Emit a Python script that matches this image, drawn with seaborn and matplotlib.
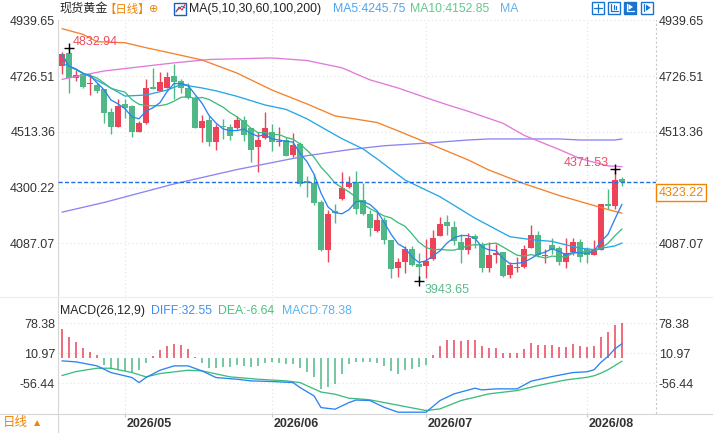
import numpy as np
import pandas as pd
import matplotlib
matplotlib.use("Agg")
import matplotlib.pyplot as plt
import matplotlib.transforms as mtransforms
from matplotlib.patches import Rectangle, Polygon
from matplotlib.ticker import FormatStrFormatter
import seaborn as sns

# ---------------- data ----------------
start_date = "2026-04-20"
n_days = 81

opens = [4764.7, 4813.0, 4717.8, 4733.1, 4695.0, 4691.2, 4676.0, 4589.5, 4533.6, 4618.8,
         4612.4, 4514.5, 4548.8, 4684.7, 4669.5, 4682.0, 4726.6, 4707.5, 4682.0, 4644.0,
         4526.0, 4557.9, 4472.7, 4536.2, 4532.4, 4526.0, 4557.9, 4527.5, 4453.6, 4487.9,
         4513.4, 4472.7, 4482.9, 4425.8, 4466.6, 4324.2, 4316.6, 4244.2, 4060.4, 4208.8,
         4254.5, 4301.4, 4323.0, 4250.7, 4197.4, 4132.7, 4177.2, 4098.4, 3993.0, 4015.8,
         4066.8, 4005.9, 3999.4, 4025.0, 4113.7, 4168.1, 4149.1, 4092.0, 4063.0, 4113.7,
         4081.3, 3993.0, 4044.0, 4053.9, 3965.2, 3993.0, 3996.8, 4069.1, 4117.5, 4037.5,
         4079.4, 4070.6, 4015.8, 4053.9, 4092.0, 4066.8, 4041.3, 4063.0, 4235.5, 4229.0,
         4333.3]
highs = [4819.1, 4832.94, 4748.3, 4735.3, 4733.1, 4701.1, 4678.0, 4605.9, 4637.9, 4639.0,
         4615.0, 4555.3, 4714.0, 4758.2, 4741.8, 4741.8, 4771.1, 4714.0, 4701.1, 4650.4,
         4578.1, 4574.3, 4542.7, 4561.7, 4542.7, 4574.3, 4574.3, 4529.0, 4510.7, 4589.5,
         4542.7, 4532.4, 4491.7, 4508.4, 4472.7, 4345.9, 4352.4, 4250.7, 4212.6, 4238.1,
         4358.4, 4345.9, 4362.0, 4318.1, 4212.6, 4210.0, 4187.1, 4100.0, 4031.0, 4075.6,
         4075.6, 4050.1, 4104.9, 4136.5, 4187.1, 4193.6, 4171.9, 4123.9, 4126.2, 4123.9,
         4092.0, 4092.0, 4085.9, 4055.0, 4015.8, 4034.9, 4079.4, 4155.5, 4133.8, 4066.8,
         4107.2, 4075.6, 4107.2, 4107.2, 4104.9, 4072.9, 4101.1, 4238.1, 4295.3, 4371.53,
         4342.1]
lows = [4733.1, 4663.0, 4707.5, 4680.0, 4654.3, 4663.0, 4548.8, 4504.6, 4530.0, 4567.8,
        4494.4, 4510.7, 4545.0, 4676.0, 4669.0, 4679.8, 4637.9, 4663.0, 4637.9, 4526.0,
        4472.7, 4457.4, 4444.9, 4485.6, 4482.9, 4523.7, 4476.5, 4396.5, 4358.4, 4485.6,
        4441.1, 4460.1, 4419.4, 4418.2, 4305.1, 4263.3, 4231.7, 4056.6, 4015.8, 4165.8,
        4252.0, 4298.0, 4200.1, 4193.6, 4114.8, 4130.0, 4083.2, 3952.6, 3956.4, 3973.9,
        4000.6, 3943.65, 3952.6, 4022.3, 4113.7, 4117.5, 4079.4, 4012.0, 4045.1, 4070.6,
        3977.7, 3975.5, 4009.7, 3958.0, 3952.6, 3977.7, 3990.7, 4069.1, 4034.9, 4012.0,
        4047.8, 4003.2, 3990.7, 4044.0, 4015.8, 4012.0, 4041.3, 4060.4, 4216.4, 4219.1,
        4305.1]
closes = [4809.2, 4720.1, 4730.4, 4685.9, 4698.8, 4669.5, 4586.9, 4533.6, 4612.4, 4605.9,
          4514.5, 4548.8, 4679.8, 4678.2, 4703.7, 4722.8, 4704.9, 4679.8, 4644.0, 4529.8,
          4555.3, 4472.7, 4532.4, 4532.4, 4495.5, 4557.9, 4500.8, 4444.9, 4482.9, 4527.5,
          4475.3, 4479.1, 4422.0, 4463.9, 4314.3, 4316.6, 4240.4, 4060.4, 4197.4, 4203.9,
          4297.5, 4318.1, 4216.4, 4197.4, 4146.8, 4177.2, 4101.1, 3986.9, 4013.5, 4066.8,
          4003.2, 3996.8, 4019.6, 4108.7, 4162.0, 4152.9, 4095.8, 4063.0, 4108.7, 4104.9,
          3990.7, 4041.3, 4047.8, 3961.4, 4003.2, 3996.8, 4064.2, 4117.5, 4044.0, 4041.3,
          4063.0, 4015.8, 4050.1, 4092.0, 4034.9, 4044.0, 4063.0, 4235.5, 4229.0, 4330.7,
          4323.22]

# long moving averages, read at sample candles
ma30_idx = [0, 3, 6, 9, 12, 15, 17, 20, 22, 25, 29, 32, 35, 38, 40, 43, 45, 49, 54, 59,
            64, 67, 70, 74, 76, 79, 80]
ma30_val = [4777, 4738, 4696, 4650, 4654, 4673, 4694, 4681, 4670, 4649, 4616, 4599, 4563,
            4517, 4487, 4448, 4410, 4329, 4265, 4183, 4112, 4101, 4094, 4068, 4063, 4077, 4088]
ma60_idx = [0, 3, 5, 9, 12, 16, 20, 25, 30, 35, 39, 41, 45, 48, 52, 58, 61, 66, 71, 75, 78, 80]
ma60_val = [4908, 4886, 4858, 4854, 4835, 4812, 4788, 4738, 4673, 4620, 4574, 4566, 4549,
            4517, 4473, 4406, 4367, 4315, 4270, 4239, 4216, 4202]
ma100_idx = [0, 6, 16, 21, 30, 35, 40, 44, 48, 52, 55, 58, 63, 66, 71, 74, 78, 80]
ma100_val = [4714, 4746, 4777, 4790, 4796, 4786, 4758, 4712, 4681, 4644, 4617, 4592, 4546,
             4500, 4446, 4411, 4383, 4380]
ma200_idx = [0, 6, 16, 25, 35, 41, 46, 52, 58, 61, 71, 74, 79, 80]
ma200_val = [4206, 4243, 4314, 4369, 4422, 4445, 4460, 4470, 4482, 4486, 4486, 4482, 4482, 4486]

# MACD histogram per candle
macd_hist = [65.2, 47.9, 36.7, 22.5, 14.2, 7.5, -15.0, -24.7, -27.0, -28.5,
             -32.2, -27.0, -9.7, 5.2, 18.0, 27.7, 31.5, 30.0, 21.7, 3.7,
             -9.7, -22.5, -22.5, -19.5, -19.5, -15.0, -17.2, -19.5, -17.2, -9.7,
             -7.5, -9.7, -12.0, -13.5, -22.5, -30.0, -41.9, -69.7, -64.4, -56.9,
             -34.5, -13.5, -8.5, -7.5, -9.0, -10.5, -16.5, -29.2, -35.2, -26.2,
             -24.0, -18.7, -14.2, 8.2, 28.5, 41.9, 41.2, 39.7, 41.9, 41.9,
             27.0, 23.2, 23.2, 12.0, 12.0, 12.0, 21.0, 34.5, 30.0, 30.0,
             30.0, 26.2, 26.2, 32.2, 27.0, 24.7, 27.0, 48.7, 59.9, 75.6, 78.38]
diff_idx = [0, 2, 5, 7, 10, 11, 12, 14, 16, 18, 20, 22, 25, 27, 30, 33, 34, 36, 37, 39,
            41, 42, 44, 46, 48, 52, 54, 56, 59, 60, 62, 65, 67, 70, 73, 75, 76, 77, 78, 79, 80]
diff_val = [-6.0, -8.2, -17.2, -32.2, -43.4, -54.7, -43.4, -27.0, -17.2, -17.2, -28.5,
            -43.4, -47.2, -50.9, -52.4, -54.7, -65.9, -84.6, -110.9, -114.6, -99.6, -94.0,
            -95.1, -110.1, -121.3, -121.3, -95.1, -80.1, -67.4, -71.2, -68.9, -68.9, -51.7,
            -41.2, -32.2, -30.5, -26.0, -9.0, 4.1, 21.4, 32.55]
dea_idx = [0, 2, 5, 7, 10, 12, 14, 18, 20, 24, 28, 32, 34, 37, 39, 41, 43, 44, 47, 52, 54,
           57, 61, 65, 68, 72, 75, 76, 77, 78, 79, 80]
dea_val = [-38.9, -30.0, -22.5, -22.5, -32.2, -41.9, -34.5, -27.0, -28.5, -41.9, -47.2,
           -50.9, -54.7, -76.0, -80.9, -89.9, -92.1, -93.6, -102.6, -117.6, -113.8, -95.1,
           -80.1, -72.7, -61.4, -48.7, -42.9, -39.5, -33.4, -25.9, -16.4, -6.64]

price_ticks = [4087.07, 4300.22, 4513.36, 4726.51, 4939.65]
macd_ticks = [-56.44, 10.97, 78.38]
last_price = 4323.22
ma5_text, ma10_text = "4245.75", "4152.85"
diff_text, dea_text, macd_text = "32.55", "-6.64", "78.38"

# ---------------- style ----------------
sns.set_theme(style="white")
plt.rcParams["font.family"] = ["Liberation Sans", "Noto Sans CJK SC", "DejaVu Sans"]

RED = "#ec4358"
GREEN = "#4fb886"
ORANGE = "#f08300"
GRID = "#e2e2e2"
AXC = "#d6d6d6"
TXT = "#333333"

W, H = 713, 433
fig = plt.figure(figsize=(W / 100, H / 100), dpi=100)
fig.patch.set_facecolor("white")


def rect(x0, y0, x1, y1):
    return [x0 / W, 1 - y1 / H, (x1 - x0) / W, (y1 - y0) / H]


ax = fig.add_axes(rect(58, 20, 656, 296))
ax2 = fig.add_axes(rect(58, 298, 656, 413))

idx = np.arange(n_days)
dates = pd.bdate_range(start_date, periods=n_days)
o = np.array(opens); h = np.array(highs); l = np.array(lows); c = np.array(closes)
cols = np.where(c >= o, RED, GREEN)

# candles
ax.vlines(idx, l, h, colors=cols, lw=1.0, zorder=2)
ax.bar(idx, np.maximum(np.abs(c - o), 4.0), bottom=np.minimum(o, c), width=0.72,
       color=cols, linewidth=0, zorder=2)

# moving averages
ma5 = pd.Series(c).rolling(5, min_periods=1).mean().values
ma10 = pd.Series(c).rolling(10, min_periods=1).mean().values
line_kw = dict(ax=ax, lw=0.95, zorder=3)
sns.lineplot(x=ma200_idx, y=ma200_val, color="#8b84f3", **line_kw)
sns.lineplot(x=ma100_idx, y=ma100_val, color="#e07ad8", **line_kw)
sns.lineplot(x=ma60_idx, y=ma60_val, color="#f5812a", **line_kw)
sns.lineplot(x=ma30_idx, y=ma30_val, color="#27a6e5", **line_kw)
sns.lineplot(x=idx, y=ma10, color="#3dbd7d", **line_kw)
sns.lineplot(x=idx, y=ma5, color="#2b84f0", **line_kw)

ax.axhline(last_price, color="#1f6fe6", ls=(0, (3, 1.6)), lw=1.0, zorder=4)

# high / low annotations
i_hi = int(np.argmax(h))
i_lo = int(np.argmin(l))
i_hi2 = int(np.argmax(h[40:])) + 40
for i, val, off, ha, col in [(i_hi, h[i_hi], (3, 4.5), "left", "#ef4d63"),
                             (i_hi2, h[i_hi2], (-4.3, 4), "right", "#ef4d63"),
                             (i_lo, l[i_lo], (4.3, -7), "left", "#5cba8a")]:
    ax.plot([i], [val], marker="+", color="black", ms=7, mew=1, zorder=5, clip_on=False)
    ax.annotate(f"{val:.2f}", xy=(i, val), xytext=off, textcoords="offset points",
                ha=ha, va="center", color=col, fontsize=9, zorder=6)

# MACD
ax2.vlines(idx, 0, macd_hist, colors=np.where(np.array(macd_hist) >= 0, RED, GREEN),
           lw=1.1, zorder=2)
sns.lineplot(x=dea_idx, y=dea_val, ax=ax2, color="#3dbd7d", lw=0.95, zorder=3)
sns.lineplot(x=diff_idx, y=diff_val, ax=ax2, color="#2b84f0", lw=0.95, zorder=3)

# axes cosmetics
xl = ((58 - 62) / 7, (656 - 62) / 7)
month_pos = [i for i in range(1, n_days) if dates[i].month != dates[i - 1].month]
month_lab = [dates[i].strftime("%Y/%m") for i in month_pos]

ax.set_ylim(3885.3, 4941.0)
ax2.set_ylim(-123.1, 135.3)
# right-hand labels: the one under the current-price tag is hidden, as in the reference
right_price_ticks = [t for t in price_ticks if abs(t - last_price) > 40]
for a, ticks, rticks in [(ax, price_ticks, right_price_ticks), (ax2, macd_ticks, macd_ticks)]:
    a.set_xlim(*xl)
    a.set_xlabel("")
    a.set_ylabel("")
    a.set_facecolor("white")
    a.set_yticks(ticks)
    a.yaxis.set_major_formatter(FormatStrFormatter("%.2f"))
    a.tick_params(axis="y", length=0, labelsize=9, labelcolor=TXT, pad=2)
    a.grid(axis="y", color=GRID, ls=(0, (1, 2.5)), lw=0.8)
    a.grid(axis="x", visible=False)
    for mx in month_pos:
        a.axvline(mx, color=GRID, ls=(0, (1, 2.5)), lw=0.8, zorder=0)
    a.spines["top"].set_visible(False)
    a.spines["bottom"].set_visible(False)
    a.spines["left"].set_color(AXC)
    a.spines["left"].set_linewidth(0.8)
    a.spines["right"].set_color("#c8c8c8")
    a.spines["right"].set_linestyle((0, (1, 3)))
    a.spines["right"].set_linewidth(0.8)

    ar = a.twinx()
    ar.set_ylim(a.get_ylim())
    ar.set_yticks(rticks)
    ar.yaxis.set_major_formatter(FormatStrFormatter("%.2f"))
    ar.tick_params(axis="y", length=0, labelsize=9, labelcolor=TXT, pad=2)
    ar.grid(False)
    for sp in ar.spines.values():
        sp.set_visible(False)

ax.set_xticks([])
ax2.set_xticks(month_pos)
ax2.set_xticklabels(month_lab)
ax2.tick_params(axis="x", length=3, width=0.8, color="#c8c8c8", labelsize=9,
                labelcolor=TXT, pad=0.5, bottom=True)
shift = mtransforms.ScaledTranslation(2 / 100, 0, fig.dpi_scale_trans)
for lbl in ax2.get_xticklabels():
    lbl.set_fontweight("bold")
    lbl.set_horizontalalignment("left")
    lbl.set_transform(lbl.get_transform() + shift)

# ---------------- overlay (pixel coordinates) ----------------
ov = fig.add_axes([0, 0, 1, 1], zorder=10)
ov.set_xlim(0, W)
ov.set_ylim(H, 0)
ov.axis("off")
ov.patch.set_alpha(0)

ov.plot([0, W], [297, 297], color="#ececec", lw=0.8)
ov.plot([0, W], [413.5, 413.5], color=AXC, lw=0.8)
ov.plot([58, 58], [413.5, H], color=AXC, lw=0.8)

# title / legend of main panel
ty = 9
ov.text(60, ty, "现货黄金", color="#222222", fontsize=8.7, va="center", ha="left")
ov.text(104, ty, "【日线】", color=ORANGE, fontsize=8.2, va="center", ha="left")
ov.text(148.5, ty + 0.5, "⊕", color=ORANGE, fontsize=8, va="center", ha="left",
        family="DejaVu Sans")
ov.add_patch(Rectangle((174, 2.5), 12, 12, fill=False, ec="#1a5fc0", lw=1))
ov.plot([176, 179, 182, 185], [12, 7, 10, 4.5], color="#e0302f", lw=0.8)
ov.plot([176, 179, 182, 185], [11, 9, 6, 8], color="#1a5fc0", lw=0.6)
ov.text(189, ty, "MA(5,10,30,60,100,200)", color="#222222", fontsize=8.8,
        va="center", ha="left")
ov.text(333, ty, f"MA5:{ma5_text}", color="#4ea6ee", fontsize=8.8, va="center", ha="left")
ov.text(410, ty, f"MA10:{ma10_text}", color="#62c98d", fontsize=8.8, va="center", ha="left")
ov.text(500, ty, "MA", color="#5cb5ee", fontsize=8.8, va="center", ha="left")

# tool icons top right
BL = "#1a73d0"
for k, x0 in enumerate([592, 608, 624, 641]):
    ov.add_patch(Rectangle((x0, 2), 11.5, 11.5, fill=(k == 2), fc=BL, ec=BL, lw=1))
    if k == 0:
        ov.plot([x0 + 5.75, x0 + 5.75], [4, 11.5], color=BL, lw=0.9)
        ov.plot([x0 + 2, x0 + 9.5], [7.75, 7.75], color=BL, lw=0.9)
    elif k == 1:
        ov.plot([x0 + 3, x0 + 3, x0 + 9.5], [4, 10.5, 10.5], color=BL, lw=0.9)
        ov.plot([x0 + 6, x0 + 6], [4.5, 9], color=BL, lw=0.9)
        ov.plot([x0 + 8, x0 + 8], [5.5, 9], color=BL, lw=0.9)
    elif k == 2:
        ov.plot([x0 + 3, x0 + 3, x0 + 9.5], [3.5, 10.5, 10.5], color="white", lw=0.9)
        ov.add_patch(Polygon([[x0 + 4.5, 4], [x0 + 9, 7], [x0 + 4.5, 10]],
                             closed=True, fc="white", ec="none"))
    else:
        ov.plot([x0 + 3, x0 + 3], [4, 11], color=BL, lw=0.9)
        ov.add_patch(Polygon([[x0 + 5, 4.5], [x0 + 9.5, 7.75], [x0 + 5, 11]],
                             closed=True, fc=BL, ec="none"))

# price tag
ov.text(658.5, 192.5, f"{last_price:.2f}", color=ORANGE, fontsize=9, va="center", ha="left",
        bbox=dict(boxstyle="square,pad=0.22", fc="white", ec=ORANGE, lw=1))

# MACD legend
my = 311
ov.text(60, my, "MACD(26,12,9)", color="#222222", fontsize=8.8, va="center", ha="left")
ov.text(151, my, f"DIFF:{diff_text}", color="#3d8ef0", fontsize=8.8, va="center", ha="left")
ov.text(218, my, f"DEA:{dea_text}", color="#4cc07f", fontsize=8.8, va="center", ha="left")
ov.text(282, my, f"MACD:{macd_text}", color="#5ab4f0", fontsize=8.8, va="center", ha="left")

# bottom-left period switch
ov.text(3, 423, "日线", color=ORANGE, fontsize=9, va="center", ha="left")
ov.text(32, 423, "▲", color=ORANGE, fontsize=7.5, va="center", ha="left")

fig.savefig("out.png", dpi=100, facecolor="white")
